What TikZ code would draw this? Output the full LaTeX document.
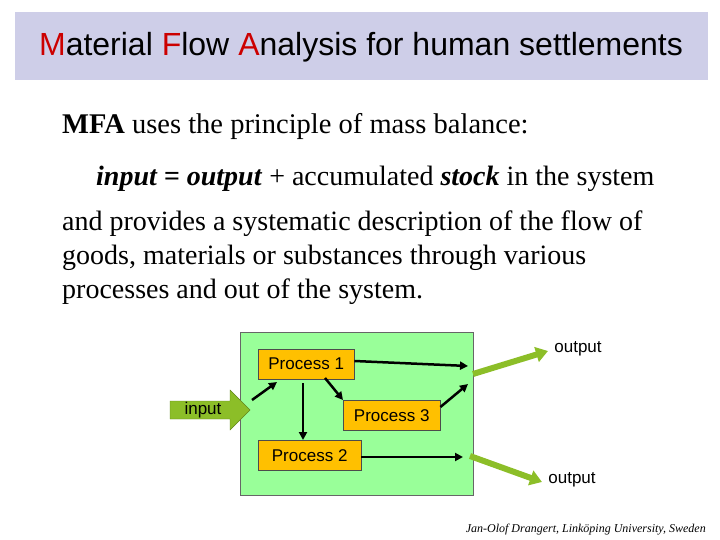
\documentclass[tikz,border=0pt]{standalone}
\usepackage{fontspec}
\setmainfont{Liberation Serif}
\newfontfamily\arial{Liberation Sans}
\usetikzlibrary{arrows.meta}
\definecolor{bar}{RGB}{206,206,232}
\definecolor{tred}{RGB}{204,0,0}
\definecolor{sysg}{RGB}{153,255,153}
\definecolor{procy}{RGB}{255,192,0}
\definecolor{arrg}{RGB}{140,190,40}
\tikzset{
 proc/.style={draw=black!70,fill=procy,font=\arial\fontsize{17}{20}\selectfont,anchor=north west,inner sep=0pt},
 flow/.style={-{Triangle[length=8pt,width=8pt]},line width=2.5pt},
 bigarr/.style={draw=arrg,-{Triangle[length=12pt,width=15pt]},line width=6pt},
 lbl/.style={font=\arial\fontsize{17}{20}\selectfont,inner sep=0pt}
}
\begin{document}
\begin{tikzpicture}[x=1pt,y=-1pt]
\useasboundingbox (0,0) rectangle (720,540);
\fill[bar] (15,12) rectangle (708,80);
\node[font=\arial\fontsize{32}{36}\selectfont] (title) at (361,47) {\textcolor{tred}{M}aterial \textcolor{tred}{F}low \textcolor{tred}{A}nalysis for human settlements};
\node[anchor=west,font=\fontsize{28.5}{34}\selectfont,inner sep=0pt] (l1) at (62,127) {\textbf{MFA} uses the principle of mass balance:};
\node[anchor=west,font=\fontsize{28}{34}\selectfont,inner sep=0pt] (l2) at (96,179) {\textit{\textbf{input = output}} + accumulated \textit{\textbf{stock}} in the system};
\node[anchor=north west,align=left,font=\fontsize{28}{34}\selectfont,inner sep=0pt] (l3) at (62,211) {and provides a systematic description of the flow of\\goods, materials or substances through various\\processes and out of the system.};
\fill[sysg,draw=black!60] (240,332) rectangle (473,495);
\node[proc,minimum width=96pt,minimum height=30pt] (p1) at (258,349) {Process 1};
\node[proc,minimum width=97pt,minimum height=30pt] (p3) at (343,400) {Process 3};
\node[proc,minimum width=103pt,minimum height=30pt] (p2) at (258,440) {Process 2};
\filldraw[fill=arrg,draw=arrg!70!black] (170,401) -- (230,401) -- (230,390) -- (250,410) -- (230,430) -- (230,419) -- (170,419) -- cycle;
\node[lbl] (inl) at (203,410) {input};
\coordinate (a1) at (252,400); \coordinate (a2) at (277,382);
\draw[flow] (a1) -- (a2);
\draw[flow] (303,383) coordinate (b1) -- (303,440);
\draw[flow] (325,378) coordinate (c1) -- (p3.north west);
\coordinate (o1) at (468,366); \coordinate (o1b) at (468,384); \coordinate (o2) at (463,457);
\draw[flow] (p1.east |- 0,361) -- (o1);
\draw[flow] (p3.east |- 0,407) -- (o1b);
\draw[flow] (p2.east |- 0,457) -- (o2);
\coordinate (s1) at (473,374); \coordinate (e1) at (548,351);
\coordinate (s2) at (470,456); \coordinate (e2) at (542,482);
\draw[bigarr] (s1) -- (e1);
\draw[bigarr] (s2) -- (e2);
\node[lbl] (ol1) at (578,349) {output};
\node[lbl] (ol2) at (572,480) {output};
\node[font=\itshape\fontsize{12}{14}\selectfont,anchor=east,inner sep=0pt] (foot) at (706,530) {Jan-Olof Drangert, Linköping University, Sweden};
\end{tikzpicture}
\end{document}
